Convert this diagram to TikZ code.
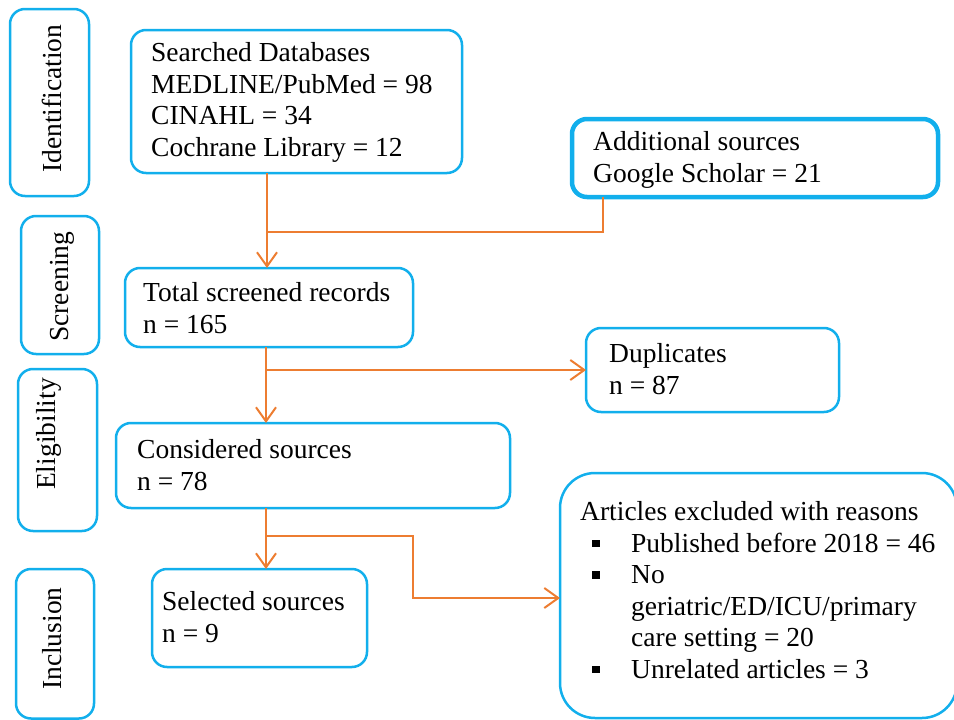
\documentclass[tikz,border=0pt]{standalone}
\usepackage{fontspec}
\setmainfont{Liberation Serif}
\usetikzlibrary{arrows.meta}
\definecolor{boxblue}{HTML}{12AFEC}
\definecolor{linkorange}{HTML}{ED7D31}
\newcommand\bitem{\makebox[51pt][l]{\hspace*{12pt}\raisebox{5pt}{\rule{7.5pt}{7.5pt}}}}
\tikzset{
  box/.style={draw=boxblue, line width=2.5pt, rounded corners=15pt, inner sep=0pt, outer sep=0pt, anchor=north west},
  % text blocks are placed by the baseline of their last line
  txt/.style={inner sep=0pt, anchor=base west, align=left, font=\fontsize{27.5}{31.5}\selectfont},
  side/.style={inner sep=0pt, anchor=base west, rotate=90, font=\fontsize{27.5}{31.5}\selectfont},
  conn/.style={draw=linkorange, line width=2pt},
  >={Straight Barb[length=14pt, width=20pt, line width=2pt]}
}
\begin{document}
\begin{tikzpicture}[x=1pt, y=-1pt]
\useasboundingbox (0,0) rectangle (954,720);

% stage labels on the left
\node[box, minimum width=79pt, minimum height=187pt] (bid) at (10,9) {};
\node[side] (lid) at (61,173) {Identification};
\node[box, minimum width=78pt, minimum height=138pt] (bsc) at (21,216) {};
\node[side] (lsc) at (68,342) {Screening};
\node[box, minimum width=79pt, minimum height=162pt] (bel) at (18,369) {};
\node[side] (lel) at (55,490) {Eligibility};
\node[box, minimum width=78pt, minimum height=149.5pt] (bin) at (16,569) {};
\node[side] (lin) at (61,690) {Inclusion};

% flow boxes
\node[box, minimum width=331pt, minimum height=143pt] (sdb) at (131,30) {};
\node[txt] (sdbt) at (151,156) {Searched Databases\\MEDLINE/PubMed = 98\\CINAHL = 34\\Cochrane Library = 12};

\node[box, line width=4.5pt, minimum width=366pt, minimum height=78pt] (add) at (572,119) {};
\node[txt] (addt) at (593,182) {Additional sources\\Google Scholar = 21};

\node[box, minimum width=288pt, minimum height=79pt] (tsr) at (125,268) {};
\node[txt] (tsrt) at (143,333) {Total screened records\\n = 165};

\node[box, minimum width=253pt, minimum height=84pt] (dup) at (586,328) {};
\node[txt] (dupt) at (609,394) {Duplicates\\n = 87};

\node[box, minimum width=394pt, minimum height=85pt] (con) at (116,423) {};
\node[txt] (cont) at (137,490) {Considered sources\\n = 78};

\node[box, minimum width=215pt, minimum height=98pt] (sel) at (152,569) {};
\node[txt] (selt) at (162,642) {Selected sources\\n = 9};

% the exclusion box runs slightly past the right edge of the page
\node[box, rounded corners=35pt, minimum width=397pt, minimum height=245pt] (exc) at (560,473) {};
\node[txt] (exct) at (580,678) {Articles excluded with reasons\\
\bitem Published before 2018 = 46\\
\bitem No\\
\hspace*{51pt}geriatric/ED/ICU/primary\\
\hspace*{51pt}care setting = 20\\
\bitem Unrelated articles = 3};

% junction points of the connectors
\coordinate (j1) at (267,232);
\coordinate (j1r) at (603,232);
\coordinate (j2) at (266,370);
\coordinate (j3) at (266,536);
\coordinate (j3r) at (413,536);
\coordinate (j3b) at (413,598);

% connectors
\draw[conn] (sdb.south -| j1) -- (j1);
\draw[conn, ->] (j1) -- (tsr.north -| j1);
\draw[conn] (add.south -| j1r) -- (j1r) -- (j1);

\draw[conn, ->] (tsr.south -| j2) -- (con.north -| j2);
\draw[conn, ->] (j2) -- (dup.west |- j2);

\draw[conn, ->] (con.south -| j3) -- (sel.north -| j3);
\draw[conn, ->] (j3) -- (j3r) -- (j3b) -- (exc.west |- j3b);
\end{tikzpicture}
\end{document}
